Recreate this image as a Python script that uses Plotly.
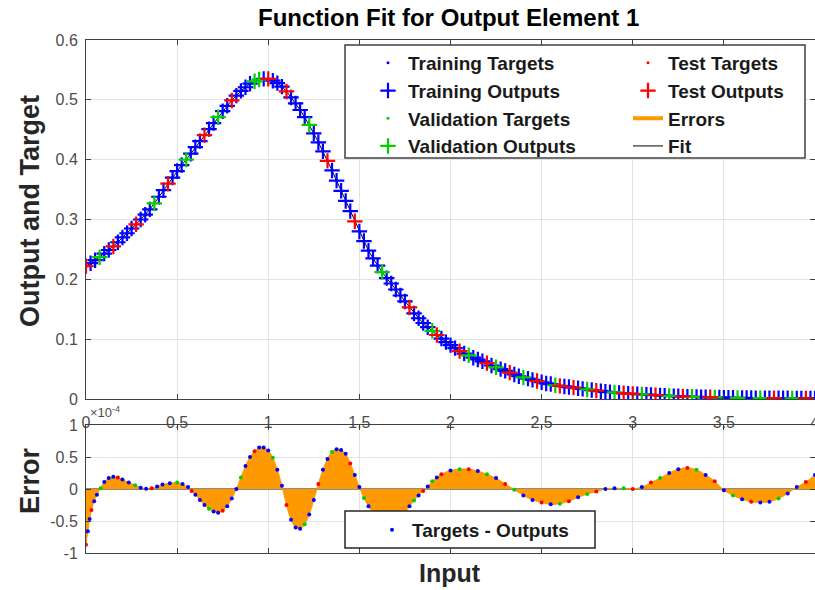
import plotly.graph_objects as go

# ---------------- data (input in units of 1e-4) ----------------
target_x = [0.000, 0.025, 0.050, 0.075, 0.100, 0.125, 0.150, 0.175, 0.200, 0.225,
            0.250, 0.275, 0.300, 0.325, 0.350, 0.375, 0.400, 0.425, 0.450, 0.475,
            0.500, 0.525, 0.550, 0.575, 0.600, 0.625, 0.650, 0.675, 0.700, 0.725,
            0.750, 0.775, 0.800, 0.825, 0.850, 0.875, 0.900, 0.925, 0.950, 0.975,
            1.000, 1.025, 1.050, 1.075, 1.100, 1.125, 1.150, 1.175, 1.200, 1.225,
            1.250, 1.275, 1.300, 1.325, 1.350, 1.375, 1.400, 1.425, 1.450, 1.475,
            1.500, 1.525, 1.550, 1.575, 1.600, 1.625, 1.650, 1.675, 1.700, 1.725,
            1.750, 1.775, 1.800, 1.825, 1.850, 1.875, 1.900, 1.925, 1.950, 1.975,
            2.000, 2.025, 2.050, 2.075, 2.100, 2.125, 2.150, 2.175, 2.200, 2.225,
            2.250, 2.275, 2.300, 2.325, 2.350, 2.375, 2.400, 2.425, 2.450, 2.475,
            2.500, 2.525, 2.550, 2.575, 2.600, 2.625, 2.650, 2.675, 2.700, 2.725,
            2.750, 2.775, 2.800, 2.825, 2.850, 2.875, 2.900, 2.925, 2.950, 2.975,
            3.000, 3.025, 3.050, 3.075, 3.100, 3.125, 3.150, 3.175, 3.200, 3.225,
            3.250, 3.275, 3.300, 3.325, 3.350, 3.375, 3.400, 3.425, 3.450, 3.475,
            3.500, 3.525, 3.550, 3.575, 3.600, 3.625, 3.650, 3.675, 3.700, 3.725,
            3.750, 3.775, 3.800, 3.825, 3.850, 3.875, 3.900, 3.925, 3.950, 3.975,
            4.000]
target_y = [0.222, 0.227, 0.232, 0.237, 0.243, 0.249, 0.255, 0.262, 0.270, 0.277,
            0.285, 0.292, 0.300, 0.308, 0.317, 0.327, 0.338, 0.349, 0.360, 0.370,
            0.381, 0.391, 0.400, 0.410, 0.421, 0.431, 0.441, 0.451, 0.461, 0.471,
            0.481, 0.490, 0.499, 0.507, 0.515, 0.521, 0.527, 0.531, 0.534, 0.535,
            0.535, 0.532, 0.528, 0.522, 0.514, 0.504, 0.494, 0.483, 0.471, 0.458,
            0.444, 0.429, 0.414, 0.398, 0.382, 0.365, 0.348, 0.331, 0.314, 0.297,
            0.280, 0.264, 0.248, 0.235, 0.223, 0.212, 0.202, 0.193, 0.183, 0.173,
            0.163, 0.153, 0.143, 0.135, 0.127, 0.120, 0.114, 0.107, 0.101, 0.095,
            0.090, 0.085, 0.080, 0.076, 0.073, 0.069, 0.066, 0.063, 0.060, 0.056,
            0.053, 0.050, 0.047, 0.044, 0.041, 0.038, 0.036, 0.034, 0.032, 0.030,
            0.028, 0.026, 0.025, 0.023, 0.022, 0.021, 0.020, 0.019, 0.018, 0.017,
            0.016, 0.015, 0.014, 0.013, 0.012, 0.0115, 0.011, 0.010, 0.0095, 0.009,
            0.0085, 0.0080, 0.0077, 0.0072, 0.0068, 0.0064, 0.0060, 0.0056, 0.0052, 0.0048,
            0.0045, 0.0042, 0.0040, 0.0037, 0.0035, 0.0032, 0.0030, 0.0028, 0.0026, 0.0024,
            0.0022, 0.0021, 0.0020, 0.0019, 0.0018, 0.0017, 0.0016, 0.0015, 0.0015, 0.0014,
            0.0014, 0.0013, 0.0013, 0.0012, 0.0012, 0.0011, 0.0011, 0.0010, 0.0010, 0.0010,
            0.0010]
# network outputs coincide with the targets at this scale
output_y = list(target_y)
# T = training, V = validation, S = test
target_split = ("STTVTTSTTT" "TSTTTVTTST" "TTVTTTSTTV" "TTSTTTTVVT"
                "STTTSTTTTV" "TTTSTTTTTS" "TTTTTVTTTT" "TSTTTTVSTT"
                "TTSTVTTTST" "VTTSTTVTTS" "TTTVSTTSTT" "VTSTTTVTST"
                "STVTTSTTVT" "TSTVTTTSVT" "TTTVTTTTVT" "TSTTTVTTST" "T")

error_x = [0.00, 0.01, 0.02, 0.03, 0.045, 0.06, 0.08, 0.10, 0.125, 0.15,
           0.175, 0.20, 0.235, 0.27, 0.30, 0.33, 0.36, 0.39, 0.42, 0.46,
           0.50, 0.53, 0.56, 0.58, 0.60, 0.625, 0.65, 0.675, 0.70, 0.725,
           0.75, 0.775, 0.80, 0.825, 0.85, 0.875, 0.90, 0.925, 0.95, 0.975,
           1.00, 1.025, 1.05, 1.075, 1.10, 1.125, 1.15, 1.175, 1.20, 1.225,
           1.25, 1.275, 1.30, 1.325, 1.35, 1.375, 1.40, 1.425, 1.45, 1.475,
           1.50, 1.525, 1.55, 1.575, 1.60, 1.625, 1.65, 1.675, 1.70, 1.725,
           1.75, 1.775, 1.80, 1.825, 1.85, 1.875, 1.90, 1.925, 1.95, 2.00,
           2.05, 2.10, 2.15, 2.20, 2.25, 2.30, 2.35, 2.40, 2.45, 2.50,
           2.55, 2.60, 2.65, 2.70, 2.75, 2.80, 2.85, 2.90, 2.95, 3.00,
           3.05, 3.10, 3.15, 3.20, 3.25, 3.30, 3.35, 3.40, 3.45, 3.50,
           3.55, 3.60, 3.65, 3.70, 3.75, 3.80, 3.85, 3.90, 3.95, 4.00]
error_y = [-0.87, -0.66, -0.47, -0.33, -0.19, -0.09, 0.01, 0.11, 0.17, 0.19,
           0.18, 0.15, 0.10, 0.06, 0.02, 0.005, 0.01, 0.04, 0.07, 0.09,
           0.10, 0.08, 0.03, -0.03, -0.09, -0.17, -0.25, -0.31, -0.35, -0.37,
           -0.34, -0.27, -0.15, 0.00, 0.18, 0.36, 0.50, 0.59, 0.65, 0.65,
           0.60, 0.49, 0.30, 0.05, -0.25, -0.48, -0.60, -0.62, -0.55, -0.40,
           -0.17, 0.08, 0.30, 0.47, 0.58, 0.62, 0.61, 0.55, 0.40, 0.22,
           0.03, -0.14, -0.27, -0.38, -0.49, -0.56, -0.60, -0.60, -0.56, -0.48,
           -0.37, -0.27, -0.18, -0.10, -0.03, 0.04, 0.12, 0.18, 0.23, 0.29,
           0.31, 0.31, 0.28, 0.23, 0.17, 0.08, -0.01, -0.10, -0.17, -0.21,
           -0.24, -0.23, -0.19, -0.13, -0.08, -0.04, 0.00, 0.01, 0.01, 0.00,
           0.03, 0.10, 0.17, 0.25, 0.31, 0.33, 0.30, 0.22, 0.12, -0.02,
           -0.10, -0.16, -0.20, -0.21, -0.20, -0.15, -0.07, 0.03, 0.11, 0.22]
error_split = ("STTSTTVTTT" "STTVTTSTTT" "VTTSTTTVTT" "STTTVTTSTT" "TVTTSTTTVT"
               "TSTTVTTTST" "TVTSTTVTTS" "TTVTSTVTST" "VSTVTSVTTS" "TVSTVSTTVS"
               "TSVTTSVTST" "VTSTTVTTST")

x_ticks = [0, 0.5, 1, 1.5, 2, 2.5, 3, 3.5, 4]
x_tick_text = ["0", "0.5", "1", "1.5", "2", "2.5", "3", "3.5", "4"]
y_ticks_top = [0, 0.1, 0.2, 0.3, 0.4, 0.5, 0.6]
y_tick_text_top = ["0", "0.1", "0.2", "0.3", "0.4", "0.5", "0.6"]
y_ticks_err = [-1, -0.5, 0, 0.5, 1]
y_tick_text_err = ["-1", "-0.5", "0", "0.5", "1"]

assert len(target_x) == len(target_y) == len(target_split)
assert len(error_x) == len(error_y) == len(error_split)

# ---------------- layout helpers ----------------
W, H = 815, 590
ML, MR, MT, MB = 86, 0, 40, 37
PW, PH = W - ML - MR, H - MT - MB


def px(xp):
    return (xp - ML) / PW


def py(yp):
    return (H - MB - yp) / PH


FONT = "Liberation Sans, Arial, Helvetica, sans-serif"
BLUE, GREEN, RED, ORANGE = "#0000ff", "#00d000", "#ff0000", "#ff9900"
AXC = "#404040"
GRID = "#e3e3e3"
LEGFONT = dict(family=FONT, size=19, color="#1a1a1a", weight="bold")


def pick(xs, ys, split, key):
    sel = [i for i, s in enumerate(split) if s == key]
    return [xs[i] for i in sel], [ys[i] for i in sel]


fig = go.Figure()

groups = [("T", "Training", BLUE), ("V", "Validation", GREEN), ("S", "Test", RED)]

# fit line (under the markers)
fig.add_trace(go.Scatter(x=target_x, y=target_y, mode="lines", name="Fit",
                         line=dict(color="black", width=1), legend="legend3",
                         legendrank=4, xaxis="x", yaxis="y"))

for key, label, col in groups:
    tx, ty = pick(target_x, output_y, target_split, key)
    fig.add_trace(go.Scatter(
        x=tx, y=ty, mode="markers", name=f"{label} Outputs",
        marker=dict(symbol="cross-thin", size=11, color=col, line=dict(color=col, width=2.2)),
        legend="legend3" if key == "S" else "legend",
        legendrank=2 if key != "V" else 4, xaxis="x", yaxis="y"))
    tx, ty = pick(target_x, target_y, target_split, key)
    fig.add_trace(go.Scatter(
        x=tx, y=ty, mode="markers", name=f"{label} Targets",
        marker=dict(symbol="circle", size=3, color=col),
        legend="legend3" if key == "S" else "legend",
        legendrank=1 if key != "V" else 3, xaxis="x", yaxis="y"))

# errors: area between error curve and zero
fig.add_trace(go.Scatter(x=error_x, y=error_y, mode="lines", fill="tozeroy",
                         fillcolor=ORANGE, line=dict(color=ORANGE, width=1, shape="spline"),
                         showlegend=False, xaxis="x2", yaxis="y2"))
# legend entry for errors (line glyph)
fig.add_trace(go.Scatter(x=[None], y=[None], mode="lines", name="Errors",
                         line=dict(color=ORANGE, width=4), legend="legend3",
                         legendrank=3, xaxis="x2", yaxis="y2"))

for key, label, col in groups:
    ex, ey = pick(error_x, error_y, error_split, key)
    fig.add_trace(go.Scatter(x=ex, y=ey, mode="markers", name="Targets - Outputs",
                             marker=dict(symbol="circle", size=4, color=col),
                             showlegend=(key == "T"), legend="legend2",
                             xaxis="x2", yaxis="y2"))

axis_common = dict(showline=True, linecolor=AXC, linewidth=1, mirror="ticks",
                   ticks="inside", ticklen=5, tickcolor=AXC, showgrid=True,
                   gridcolor=GRID, gridwidth=1, automargin=False,
                   tickfont=dict(family=FONT, size=16, color="#4d4d4d"))

fig.update_layout(
    width=W, height=H,
    margin=dict(l=ML, r=MR, t=MT, b=MB),
    paper_bgcolor="white", plot_bgcolor="white",
    font=dict(family=FONT),
    xaxis=dict(domain=[0, 1], range=[0, 4], tickvals=x_ticks, ticktext=x_tick_text,
               anchor="y", zeroline=False, ticklabelstandoff=9,
               ticklabeloverflow="allow", **axis_common),
    yaxis=dict(domain=[py(399), 1], range=[0, 0.6], tickvals=y_ticks_top,
               ticktext=y_tick_text_top, anchor="x", zeroline=False,
               ticklabelstandoff=4, **axis_common),
    xaxis2=dict(domain=[0, 1], range=[0, 4], tickvals=x_ticks, showticklabels=False,
                anchor="y2", zeroline=False, **axis_common),
    yaxis2=dict(domain=[0, py(425)], range=[-1, 1], tickvals=y_ticks_err,
                ticktext=y_tick_text_err, anchor="x2", zeroline=True,
                zerolinecolor="#8a8a8a", zerolinewidth=2, ticklabelstandoff=4,
                **axis_common),
    legend=dict(x=px(368), y=py(44), xanchor="left", yanchor="top",
                bgcolor="rgba(0,0,0,0)", borderwidth=0, traceorder="normal",
                font=LEGFONT, tracegroupgap=0, itemsizing="trace"),
    legend3=dict(x=px(628), y=py(44), xanchor="left", yanchor="top",
                 bgcolor="rgba(0,0,0,0)", borderwidth=0, traceorder="normal",
                 font=LEGFONT, tracegroupgap=0, itemsizing="trace"),
    legend2=dict(x=px(372), y=py(511), xanchor="left", yanchor="top",
                 bgcolor="rgba(0,0,0,0)", borderwidth=0, font=LEGFONT),
    shapes=[
        dict(type="rect", xref="paper", yref="paper", x0=px(345), x1=px(805),
             y0=py(158), y1=py(45), fillcolor="white", line=dict(color="#404040", width=1.5),
             layer="above"),
        dict(type="rect", xref="paper", yref="paper", x0=px(345), x1=px(595),
             y0=py(548), y1=py(511), fillcolor="white", line=dict(color="#262626", width=1.5),
             layer="above"),
    ],
    annotations=[
        dict(text="Function Fit for Output Element 1", xref="paper", yref="paper",
             x=px(448), y=py(18), xanchor="center", yanchor="middle", showarrow=False,
             font=dict(family=FONT, size=24, color="black", weight="bold")),
        dict(text="Output and Target", xref="paper", yref="paper", x=px(30), y=py(211),
             xanchor="center", yanchor="middle", textangle=-90, showarrow=False,
             font=dict(family=FONT, size=27, color="#262626", weight="bold")),
        dict(text="Error", xref="paper", yref="paper", x=px(30), y=py(480),
             xanchor="center", yanchor="middle", textangle=-90, showarrow=False,
             font=dict(family=FONT, size=27, color="#262626", weight="bold")),
        dict(text="Input", xref="paper", yref="paper", x=px(450), y=py(573),
             xanchor="center", yanchor="middle", showarrow=False,
             font=dict(family=FONT, size=25, color="#262626", weight="bold")),
        dict(text="×10<sup>-4</sup>", xref="paper", yref="paper", x=px(88), y=py(412),
             xanchor="left", yanchor="middle", showarrow=False,
             font=dict(family=FONT, size=13, color="#4d4d4d")),
    ],
)

fig.write_html("out.html")
